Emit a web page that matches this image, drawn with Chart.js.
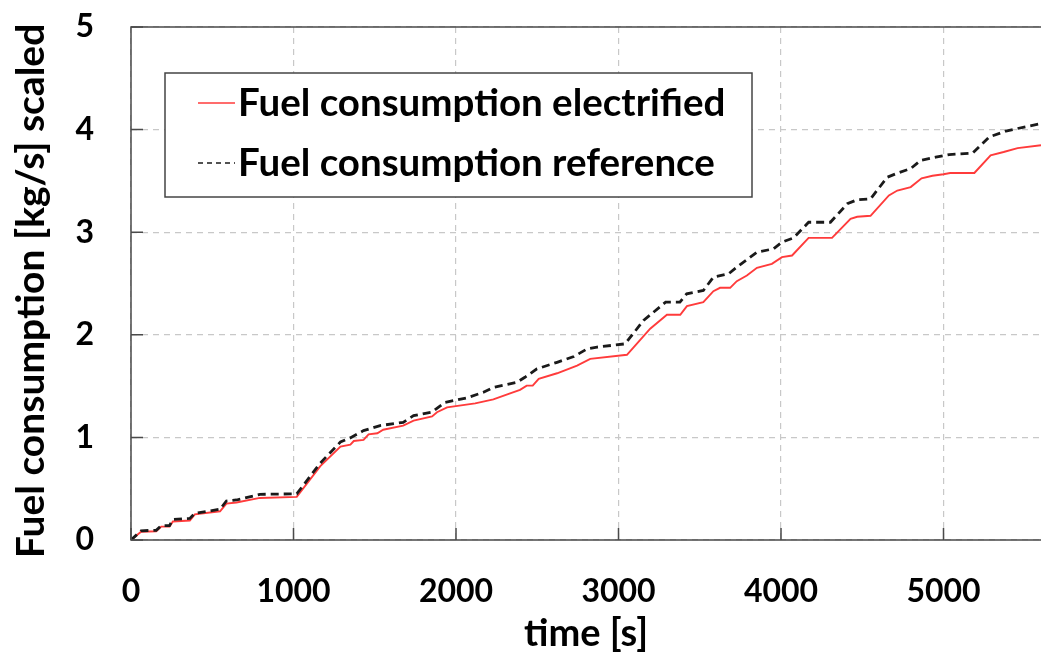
<!DOCTYPE html>
<html>
<head>
<meta charset="utf-8">
<script src="https://cdn.jsdelivr.net/npm/chart.js@4.4.1/dist/chart.umd.min.js"></script>
<style>
  html, body { margin: 0; padding: 0; background: #ffffff; }
  #wrap { width: 1041px; height: 653px; }
</style>
</head>
<body>
<div id="wrap"><canvas id="c" width="1041" height="653"></canvas></div>
<script>
// ---- Data ----
const seriesLabels = ['Fuel consumption electrified', 'Fuel consumption reference'];

const timeElectrified = [0, 62, 155, 186, 237, 258, 362, 393, 548, 587, 649, 793, 1020, 1165, 1289, 1350, 1371, 1431, 1462, 1516, 1552, 1675, 1739, 1853, 1883, 1945, 2118, 2230, 2333, 2394, 2435, 2472, 2509, 2622, 2745, 2826, 3052, 3195, 3298, 3380, 3421, 3522, 3584, 3625, 3687, 3728, 3790, 3852, 3944, 4006, 4068, 4170, 4314, 4428, 4469, 4551, 4664, 4716, 4798, 4865, 4932, 5000, 5041, 5190, 5290, 5370, 5456, 5600];
const fuelElectrified = [0, 0.08, 0.085, 0.13, 0.13, 0.18, 0.19, 0.25, 0.28, 0.355, 0.365, 0.41, 0.42, 0.72, 0.91, 0.93, 0.965, 0.975, 1.03, 1.04, 1.075, 1.115, 1.163, 1.205, 1.245, 1.293, 1.332, 1.37, 1.43, 1.463, 1.505, 1.505, 1.57, 1.625, 1.70, 1.765, 1.805, 2.06, 2.195, 2.195, 2.28, 2.318, 2.425, 2.458, 2.458, 2.523, 2.578, 2.653, 2.692, 2.757, 2.773, 2.945, 2.945, 3.13, 3.15, 3.16, 3.358, 3.406, 3.44, 3.525, 3.55, 3.565, 3.577, 3.577, 3.75, 3.782, 3.82, 3.847];

const timeReference = [0, 62, 155, 186, 237, 258, 362, 393, 548, 587, 649, 793, 1020, 1165, 1289, 1349, 1431, 1533, 1675, 1739, 1853, 1933, 2066, 2169, 2230, 2374, 2424, 2498, 2622, 2725, 2807, 2868, 3041, 3154, 3290, 3378, 3420, 3522, 3584, 3677, 3728, 3852, 3954, 4006, 4078, 4170, 4304, 4408, 4469, 4551, 4654, 4716, 4798, 4860, 4952, 5035, 5179, 5281, 5384, 5497, 5600];
const fuelReference = [0, 0.09, 0.095, 0.14, 0.14, 0.2, 0.21, 0.26, 0.30, 0.38, 0.39, 0.445, 0.45, 0.75, 0.955, 0.995, 1.066, 1.115, 1.147, 1.212, 1.248, 1.342, 1.385, 1.44, 1.488, 1.537, 1.586, 1.668, 1.732, 1.788, 1.863, 1.88, 1.912, 2.14, 2.318, 2.318, 2.40, 2.432, 2.562, 2.594, 2.659, 2.805, 2.838, 2.903, 2.945, 3.097, 3.097, 3.277, 3.316, 3.325, 3.536, 3.575, 3.62, 3.70, 3.731, 3.757, 3.77, 3.928, 3.986, 4.025, 4.058];

const xTicks = [0, 1000, 2000, 3000, 4000, 5000];
const yTicks = [0, 1, 2, 3, 4, 5];
const xTitle = 'time [s]';
const yTitle = 'Fuel consumption [kg/s] scaled';

// ---- Build chart ----
const toPoints = (xs, ys) => xs.map((x, i) => ({ x: x, y: ys[i] }));
const FONT = 'Lato, "Open Sans", sans-serif';

const framePlugin = {
  id: 'frame',
  afterDatasetsDraw(chart) {
    const { ctx, chartArea: a, scales } = chart;
    ctx.save();
    ctx.strokeStyle = '#4a4a4a';
    ctx.lineWidth = 1.5;
    ctx.setLineDash([]);
    ctx.beginPath();
    ctx.moveTo(a.right + 2, a.top);
    ctx.lineTo(a.left, a.top);
    ctx.lineTo(a.left, a.bottom);
    ctx.lineTo(a.right + 2, a.bottom);
    ctx.stroke();
    // inward tick marks
    ctx.beginPath();
    xTicks.forEach(v => {
      const px = scales.x.getPixelForValue(v);
      ctx.moveTo(px, a.bottom);
      ctx.lineTo(px, a.bottom - 12);
    });
    yTicks.forEach(v => {
      const py = scales.y.getPixelForValue(v);
      ctx.moveTo(a.left, py);
      ctx.lineTo(a.left + 12, py);
    });
    ctx.stroke();
    ctx.restore();
  },
  afterDraw(chart) {
    const { ctx } = chart;
    const ds = chart.data.datasets;
    ctx.save();
    // y axis title
    ctx.save();
    ctx.translate(31, 291);
    ctx.rotate(-Math.PI / 2);
    ctx.font = 'bold 39px ' + FONT;
    ctx.fillStyle = '#000000';
    ctx.textAlign = 'center';
    ctx.textBaseline = 'middle';
    ctx.fillText(yTitle, 0, 0);
    ctx.restore();
    // legend box
    ctx.fillStyle = '#ffffff';
    ctx.fillRect(165, 73, 587, 124);
    ctx.strokeStyle = '#444444';
    ctx.lineWidth = 1.5;
    ctx.setLineDash([]);
    ctx.strokeRect(165, 73, 587, 124);
    const rows = [103, 163];
    ctx.font = 'bold 38.5px ' + FONT;
    ctx.textBaseline = 'middle';
    ctx.textAlign = 'left';
    ds.forEach((d, i) => {
      const y = rows[i];
      ctx.beginPath();
      ctx.strokeStyle = d.borderColor;
      ctx.lineWidth = 1.5;
      ctx.setLineDash(i === 0 ? [] : [5, 4]);
      ctx.moveTo(198, y);
      ctx.lineTo(235, y);
      ctx.stroke();
      ctx.setLineDash([]);
      ctx.fillStyle = '#000000';
      ctx.fillText(d.label, 238, y + 1);
    });
    ctx.restore();
  }
};

new Chart(document.getElementById('c'), {
  type: 'line',
  data: {
    datasets: [
      {
        label: seriesLabels[0],
        data: toPoints(timeElectrified, fuelElectrified),
        borderColor: '#ff3b3b',
        borderWidth: 1.9,
        pointRadius: 0,
        tension: 0,
        fill: false,
        order: 2
      },
      {
        label: seriesLabels[1],
        data: toPoints(timeReference, fuelReference),
        borderColor: '#1a1a1a',
        borderWidth: 2.8,
        borderDash: [8, 5],
        pointRadius: 0,
        tension: 0,
        fill: false,
        order: 1
      }
    ]
  },
  options: {
    responsive: false,
    animation: false,
    devicePixelRatio: 1,
    layout: { padding: { top: 27, right: 0, left: 0, bottom: 0 } },
    plugins: { legend: { display: false }, tooltip: { enabled: false } },
    scales: {
      x: {
        type: 'linear',
        min: 0,
        max: 5600,
        afterFit(s) { s.height = 113; s.paddingLeft = 0; s.paddingRight = 0; },
        afterBuildTicks(s) { s.ticks = xTicks.map(v => ({ value: v })); },
        ticks: {
          includeBounds: false,
          padding: 32,
          color: '#000000',
          font: { family: FONT, size: 32, weight: 'bold' },
          callback: v => String(v)
        },
        grid: { color: '#c8c8c8', lineWidth: 1.2, drawTicks: false },
        border: { display: false, dash: [6, 5] },
        title: {
          display: true,
          text: xTitle,
          color: '#000000',
          font: { family: FONT, size: 38, weight: 'bold', lineHeight: 1 },
          padding: { top: 0, bottom: 0 }
        }
      },
      y: {
        min: 0,
        max: 5,
        afterFit(s) { s.width = 131; s.paddingTop = 0; s.paddingBottom = 0; },
        afterBuildTicks(s) { s.ticks = yTicks.map(v => ({ value: v })); },
        ticks: {
          padding: 37,
          color: '#000000',
          font: { family: FONT, size: 32, weight: 'bold' },
          callback: v => String(v)
        },
        grid: { color: '#c8c8c8', lineWidth: 1.2, drawTicks: false },
        border: { display: false, dash: [6, 5] },
        title: { display: false }
      }
    }
  },
  plugins: [framePlugin]
});
</script>
</body>
</html>
